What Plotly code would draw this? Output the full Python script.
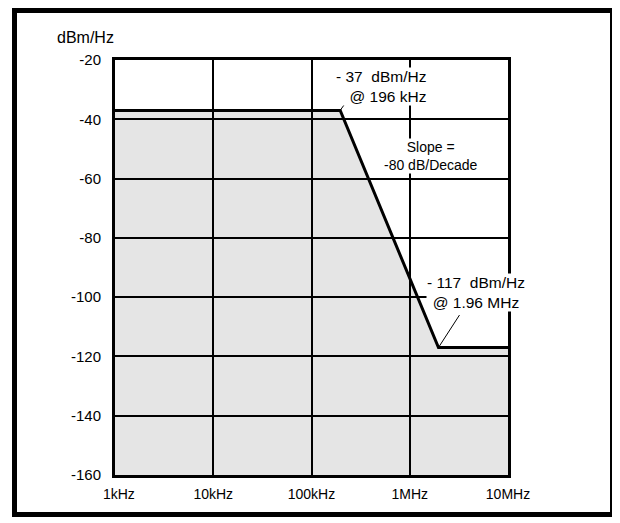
import plotly.graph_objects as go
import math

# ---- data ----
freq_hz = [1e3, 196e3, 1.96e6, 1e7]
psd_dbm_hz = [-37, -37, -117, -117]
floor_dbm_hz = -160
x_tick_vals = [1e3, 1e4, 1e5, 1e6, 1e7]
x_tick_text = ["  1kHz", "10kHz", "100kHz", "1MHz", "10MHz"]
y_tick_vals = [-160, -140, -120, -100, -80, -60, -40, -20]
y_tick_text = ["-160", "-140", "-120", "-100", "-80", "-60", "-40", "-20"]
knee_labels = ["- 37&nbsp; dBm/Hz<br>@ 196 kHz", "- 117&nbsp; dBm/Hz<br>@ 1.96 MHz"]
slope_label = "Slope =<br>-80 dB/Decade"
y_unit = "dBm/Hz"

FONT = "Liberation Sans, Arial, sans-serif"

# plot area in figure pixels
L, R, T, B = 107, 120, 52, 56
W, H = 620, 523
PW, PH = W - L - R, H - T - B


def px(xf):
    return (xf - L) / PW


def py(yf):
    return (H - B - yf) / PH


fig = go.Figure()
fig.add_trace(go.Scatter(x=freq_hz, y=[floor_dbm_hz] * len(freq_hz), mode="lines",
                         line=dict(width=0, color="rgba(0,0,0,0)"), hoverinfo="skip",
                         showlegend=False))
fig.add_trace(go.Scatter(x=freq_hz, y=psd_dbm_hz, mode="lines", fill="tonexty",
                         fillcolor="rgba(0,0,0,0.10)",
                         line=dict(color="black", width=3), showlegend=False))

# leader lines from the knees
fig.add_annotation(x=math.log10(freq_hz[1]), y=psd_dbm_hz[1], text="", showarrow=True,
                   arrowhead=0, arrowwidth=1, arrowcolor="black", ax=10, ay=-14)
fig.add_annotation(x=math.log10(freq_hz[2]), y=psd_dbm_hz[2], text="", showarrow=True,
                   arrowhead=0, arrowwidth=1, arrowcolor="black", ax=22, ay=-34)

# labels
fig.add_annotation(x=6.176, y=-28.8, text=knee_labels[0], showarrow=False, xanchor="right",
                   yanchor="middle", align="right", bgcolor="white", borderpad=0,
                   font=dict(family=FONT, size=15.5, color="black"))
fig.add_annotation(x=6.216, y=-52.4, text=slope_label, showarrow=False, xanchor="center",
                   yanchor="middle", align="center", bgcolor="white", borderpad=0,
                   font=dict(family=FONT, size=14, color="black"))
fig.add_annotation(x=6.674, y=-98.4, text=knee_labels[1], showarrow=False, xanchor="center",
                   yanchor="middle", align="center", bgcolor="white", borderpad=0,
                   font=dict(family=FONT, size=15.5, color="black"))
fig.add_annotation(x=px(47), y=py(30), xref="paper", yref="paper", text=y_unit, showarrow=False,
                   xanchor="left", yanchor="middle", font=dict(family=FONT, size=16, color="black"))

# outer border
fig.add_shape(type="rect", xref="paper", yref="paper",
              x0=px(6.5), x1=px(604.5), y0=py(506.5), y1=py(2.5),
              line=dict(color="black", width=5), fillcolor="rgba(0,0,0,0)")

fig.update_xaxes(type="log", range=[3, 7], tickvals=x_tick_vals, ticktext=x_tick_text,
                 showgrid=True, gridcolor="black", gridwidth=1.5, showline=True, mirror=True,
                 linecolor="black", linewidth=3, ticks="", ticklabelstandoff=4,
                 tickfont=dict(family=FONT, size=14, color="black"), zeroline=False)
fig.update_yaxes(range=[-160, -20], tickvals=y_tick_vals, ticktext=y_tick_text,
                 showgrid=True, gridcolor="black",
                 gridwidth=1.5, showline=True, mirror=True, linecolor="black", linewidth=3,
                 ticks="", ticklabelstandoff=8, zeroline=False,
                 tickfont=dict(family=FONT, size=15, color="black"))
fig.update_layout(width=W, height=H, margin=dict(l=L, r=R, t=T, b=B),
                  paper_bgcolor="white", plot_bgcolor="white", showlegend=False,
                  font=dict(family=FONT, color="black"))
fig.write_html("out.html")
